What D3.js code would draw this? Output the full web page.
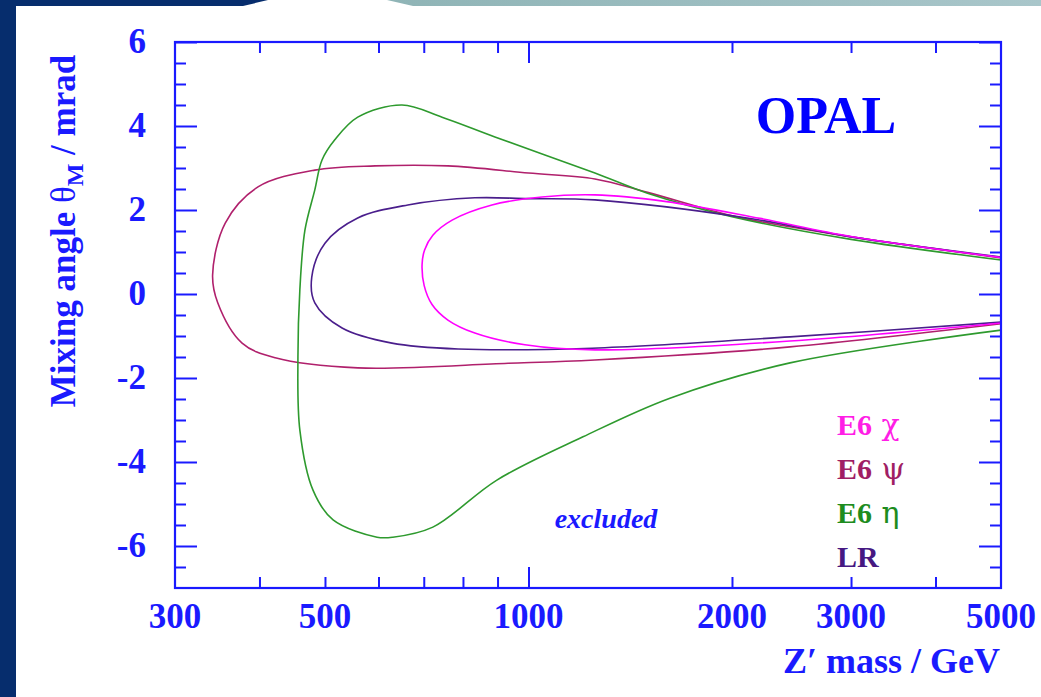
<!DOCTYPE html>
<html>
<head>
<meta charset="utf-8">
<script src="https://cdn.jsdelivr.net/npm/d3@7"></script>
<style>
  html, body { margin: 0; padding: 0; background: #fff; }
  svg { display: block; }
  text { font-family: "Liberation Serif", "Times New Roman", serif; font-weight: bold; }
</style>
</head>
<body>
<svg id="chart" width="1041" height="697"></svg>
<script>
// contours: [Z' mass (GeV), mixing angle (mrad)], upper branch from the right, round the nose, lower branch back
const chiCurve = [
  [5000, 0.87], [3000, 1.37], [2200, 1.8], [1600, 2.2], [1254, 2.36], [1047, 2.31],
  [883, 2.12], [771, 1.76], [722, 1.4], [702, 1.05], [696, 0.7], [701, 0.2], [720, -0.25],
  [760, -0.62], [833, -0.93], [988, -1.21], [1254, -1.33], [2437, -1.12], [5000, -0.69]
];
const psiCurve = [
  [5000, 0.86], [3000, 1.36], [2437, 1.6], [2000, 1.86], [1500, 2.42], [1254, 2.74], [1000, 2.88],
  [760, 3.05], [593, 3.05], [483, 2.95], [398, 2.55], [356, 1.69], [341, 0.45],
  [347, -0.21], [377, -1.17], [422, -1.52], [559, -1.76], [933, -1.65], [1254, -1.57],
  [2437, -1.26], [5000, -0.71]
];
const etaCurve = [
  [5000, 0.81], [3000, 1.3], [2000, 1.84], [1500, 2.4], [1254, 2.88], [892, 3.74],
  [745, 4.21], [650, 4.5], [559, 4.21], [517, 3.67], [495, 3.19], [483, 2.48],
  [467, 1.52], [459, 0.1], [456, -1.5], [459, -3.24], [480, -4.67], [514, -5.38],
  [597, -5.79], [630, -5.79], [722, -5.55], [898, -4.43], [1204, -3.4], [1619, -2.48],
  [2437, -1.64], [5000, -0.86]
];
const lrCurve = [
  [5000, 0.88], [3000, 1.36], [2105, 1.81], [1254, 2.24], [1000, 2.27], [833, 2.29],
  [663, 2.12], [559, 1.81], [500, 1.21], [478, 0.4], [483, -0.21], [530, -0.81],
  [628, -1.17], [787, -1.31], [1242, -1.29], [2437, -1.02], [5000, -0.67]
];

const modelNames = ["E6", "E6", "E6", "LR"];
const modelGreek = ["χ", "ψ", "η", ""];
const curves = [chiCurve, psiCurve, etaCurve, lrCurve];
const colors = ["#ff00ff", "#b0206c", "#2e9a2e", "#4a1e8c"];
const labelColors = ["#ff1ee6", "#a01e64", "#1e8c1e", "#461882"];

const xTickLabels = [300, 500, 1000, 2000, 3000, 5000];
const xMajorTicks = [1000];
const xMinorTicks = [400, 500, 600, 700, 800, 900, 2000, 3000, 4000];
const yTickLabels = [-6, -4, -2, 0, 2, 4, 6];
const yMinorTicks = d3.range(-6.5, 6, 0.5).filter(v => v % 2 !== 0);

const svg = d3.select("#chart");
const W = 1041, H = 697;
const m = { left: 175, right: 1001, top: 42, bottom: 588 };
const axisColor = "#1a1aff";

// slide frame
svg.append("rect").attr("x", 0).attr("y", 0).attr("width", 16).attr("height", H).attr("fill", "#062d6d");
svg.append("path").attr("d", "M0,0 L268,0 L243,6 L0,6 Z").attr("fill", "#062d6d");
const grad = svg.append("defs").append("linearGradient").attr("id", "teal");
grad.append("stop").attr("offset", "0%").attr("stop-color", "#8fb4b6");
grad.append("stop").attr("offset", "100%").attr("stop-color", "#a9c6ca");
svg.append("path").attr("d", "M387,0 L1041,0 L1041,6 L413,6 Z").attr("fill", "url(#teal)");

const x = d3.scaleLog().domain([300, 5000]).range([m.left, m.right]);
const y = d3.scaleLinear().domain([-7, 6]).range([m.bottom, m.top]);

// curves
const line = d3.line()
  .x(d => x(d[0]))
  .y(d => y(d[1]))
  .curve(d3.curveCatmullRom.alpha(0.5));

const order = [1, 2, 3, 0];
svg.append("g").selectAll("path")
  .data(order)
  .join("path")
  .attr("d", i => line(curves[i]))
  .attr("fill", "none")
  .attr("stroke", i => colors[i])
  .attr("stroke-width", 1.6);

// axes with inward ticks
function styleAxis(g) {
  g.select(".domain").remove();
  g.selectAll("line").attr("stroke", axisColor).attr("stroke-width", 2);
  g.selectAll("text").remove();
}
svg.append("g").attr("transform", `translate(0,${m.bottom})`)
  .call(d3.axisBottom(x).tickValues(xMinorTicks).tickSize(-11)).call(styleAxis);
svg.append("g").attr("transform", `translate(0,${m.bottom})`)
  .call(d3.axisBottom(x).tickValues(xMajorTicks).tickSize(-21)).call(styleAxis);
svg.append("g").attr("transform", `translate(0,${m.top})`)
  .call(d3.axisTop(x).tickValues(xMinorTicks).tickSize(-11)).call(styleAxis);
svg.append("g").attr("transform", `translate(0,${m.top})`)
  .call(d3.axisTop(x).tickValues(xMajorTicks).tickSize(-21)).call(styleAxis);
svg.append("g").attr("transform", `translate(${m.left},0)`)
  .call(d3.axisLeft(y).tickValues(yMinorTicks).tickSize(-11)).call(styleAxis);
svg.append("g").attr("transform", `translate(${m.left},0)`)
  .call(d3.axisLeft(y).tickValues(yTickLabels).tickSize(-22)).call(styleAxis);
svg.append("g").attr("transform", `translate(${m.right},0)`)
  .call(d3.axisRight(y).tickValues(yMinorTicks).tickSize(-11)).call(styleAxis);
svg.append("g").attr("transform", `translate(${m.right},0)`)
  .call(d3.axisRight(y).tickValues(yTickLabels).tickSize(-22)).call(styleAxis);

svg.append("rect")
  .attr("x", m.left).attr("y", m.top)
  .attr("width", m.right - m.left).attr("height", m.bottom - m.top)
  .attr("fill", "none").attr("stroke", axisColor).attr("stroke-width", 2.2);

// tick labels
svg.append("g").selectAll("text")
  .data(xTickLabels)
  .join("text")
  .attr("x", d => x(d))
  .attr("y", 628)
  .attr("text-anchor", "middle")
  .attr("font-size", 35)
  .attr("fill", axisColor)
  .text(d => d);

svg.append("g").selectAll("text")
  .data(yTickLabels)
  .join("text")
  .attr("x", 146)
  .attr("y", d => y(d) + 11)
  .attr("text-anchor", "end")
  .attr("font-size", 35)
  .attr("fill", axisColor)
  .text(d => d);

// axis titles
svg.append("text")
  .attr("x", 1000).attr("y", 673)
  .attr("text-anchor", "end")
  .attr("font-size", 36)
  .attr("fill", axisColor)
  .text("Z′ mass / GeV");

const yt = svg.append("text")
  .attr("transform", "translate(75,231) rotate(-90)")
  .attr("text-anchor", "middle")
  .attr("font-size", 35)
  .attr("fill", axisColor);
yt.append("tspan").text("Mixing angle ");
yt.append("tspan").attr("font-weight", "normal").text("θ");
yt.append("tspan").attr("font-size", 24).attr("dy", 8).text("M");
yt.append("tspan").attr("dy", -8).text(" / mrad");

svg.append("text")
  .attr("x", 826).attr("y", 133)
  .attr("text-anchor", "middle")
  .attr("font-size", 52)
  .attr("fill", "#0000ff")
  .text("OPAL");

svg.append("text")
  .attr("x", 606).attr("y", 528)
  .attr("text-anchor", "middle")
  .attr("font-size", 28)
  .attr("font-style", "italic")
  .attr("fill", axisColor)
  .text("excluded");

// legend
const leg = svg.append("g").selectAll("text")
  .data(modelNames)
  .join("text")
  .attr("x", 837)
  .attr("y", (d, i) => 435 + i * 44)
  .attr("font-size", 30)
  .attr("fill", (d, i) => labelColors[i]);
leg.append("tspan").text(d => d);
leg.append("tspan")
  .attr("font-weight", "normal")
  .attr("font-family", "'DejaVu Serif', 'Liberation Serif', serif")
  .attr("font-size", 30)
  .text((d, i) => modelGreek[i] ? " " + modelGreek[i] : "");
</script>
</body>
</html>
